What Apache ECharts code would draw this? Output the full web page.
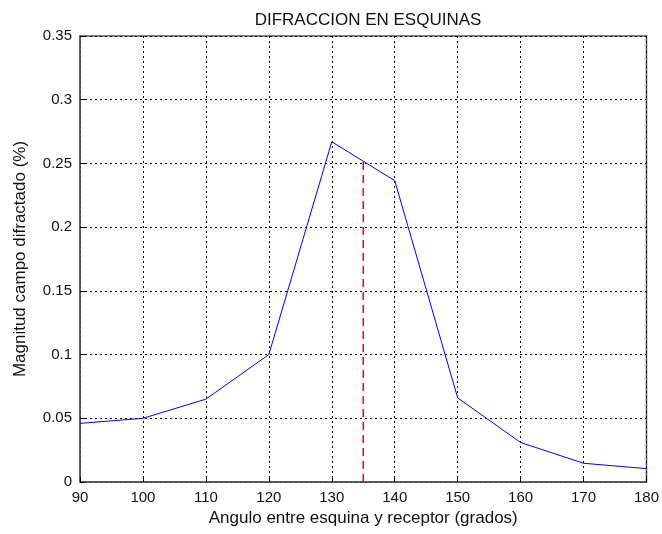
<!DOCTYPE html>
<html><head><meta charset="utf-8">
<script src="https://cdn.jsdelivr.net/npm/echarts@6/dist/echarts.min.js"></script>
<style>html,body{margin:0;padding:0;background:#fff}#c{width:662px;height:534px}</style>
</head><body><div id="c"></div>
<script>
const angles = [90, 100, 110, 120, 130, 140, 150, 160, 170, 180];
const magnitudes = [0.046, 0.050, 0.065, 0.100, 0.267, 0.2365, 0.066, 0.031, 0.0147, 0.0105];
const markerX = [135, 135];
const markerY = [0, 0.252];
const titleText = 'DIFRACCION EN ESQUINAS';
const xName = 'Angulo entre esquina y receptor (grados)';
const yName = 'Magnitud campo difractado (%)';

const chart = echarts.init(document.getElementById('c'));
const font = 'Liberation Sans, Arial, sans-serif';
chart.setOption({
  animation: false,
  backgroundColor: '#fff',
  title: { text: titleText, left: 363, top: 7, textAlign: 'center',
    textStyle: { fontFamily: font, fontSize: 17, fontWeight: 'normal', color: '#111' } },
  grid: { left: 80, right: 15, top: 36, bottom: 52, show: true, borderColor: '#555', borderWidth: 1.5 },
  xAxis: {
    type: 'value', min: 90, max: 180, interval: 10,
    name: xName, nameLocation: 'middle', nameGap: 27,
    nameTextStyle: { fontFamily: font, fontSize: 17, color: '#111' },
    axisLine: { show: true, lineStyle: { color: '#555', width: 1.5 } },
    axisTick: { inside: true, length: 5, lineStyle: { color: '#000' } },
    axisLabel: { fontFamily: font, fontSize: 15, color: '#111', margin: 8 },
    splitLine: { show: true, lineStyle: { color: '#000', type: [2, 3], width: 1 } }
  },
  yAxis: {
    type: 'value', min: 0, max: 0.35, interval: 0.05,
    name: yName, nameLocation: 'middle', nameGap: 51,
    nameTextStyle: { fontFamily: font, fontSize: 17, color: '#111' },
    axisLine: { show: true, lineStyle: { color: '#555', width: 1.5 } },
    axisTick: { inside: true, length: 5, lineStyle: { color: '#000' } },
    axisLabel: { fontFamily: font, fontSize: 15, color: '#111', margin: 8,
      formatter: v => String(+v.toFixed(2)) },
    splitLine: { show: true, lineStyle: { color: '#000', type: [2, 3], width: 1 } }
  },
  series: [
    { type: 'line', data: angles.map((a, i) => [a, magnitudes[i]]), symbol: 'none',
      lineStyle: { color: '#0000ff', width: 1 } },
    { type: 'line', data: markerX.map((a, i) => [a, markerY[i]]), symbol: 'none',
      lineStyle: { color: '#ff0000', width: 1.5, type: [8, 5] } }
  ]
});
</script></body></html>
